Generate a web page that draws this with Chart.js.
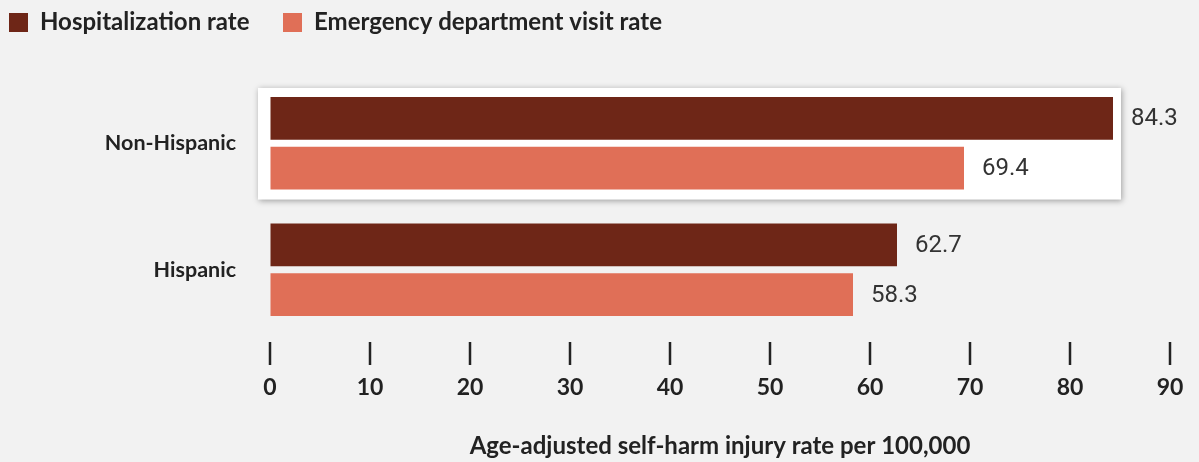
<!DOCTYPE html>
<html>
<head>
<meta charset="utf-8">
<script src="https://cdn.jsdelivr.net/npm/chart.js@4.4.1/dist/chart.umd.min.js"></script>
<style>
  html, body { margin: 0; padding: 0; background: #f2f2f2; }
  #wrap { width: 1199px; height: 462px; }
</style>
</head>
<body>
<div id="wrap"><canvas id="grafico"></canvas></div>
<script>
// dados
const categorias = ["Non-Hispanic", "Hispanic"];
const internacao = [84.3, 62.7];
const emergencia = [69.4, 58.3];
const ticksX = [0, 10, 20, 30, 40, 50, 60, 70, 80, 90];

const corEscura = "#6e2617";
const corClara = "#e06f57";
const fonteBold = "Lato";

// legenda desenhada a mao pra ficar igual a figura
const legendaPlugin = {
    id: "legendaManual",
    afterDraw(chart) {
        const c = chart.ctx;
        const posicoes = [9, 283];
        c.save();
        c.font = "bold 24px " + fonteBold;
        c.textBaseline = "middle";
        chart.data.datasets.forEach((ds, i) => {
            c.fillStyle = ds.backgroundColor;
            c.fillRect(posicoes[i], 13, 19, 19);
            c.fillStyle = "#222";
            c.fillText(ds.label, posicoes[i] + 31, 22.5);
        });
        c.restore();
    }
};

// caixa branca em volta do primeiro grupo
const caixaPlugin = {
    id: "caixaDestaque",
    beforeDatasetsDraw(chart) {
        const c = chart.ctx;
        const barras = chart.data.datasets.map((d, i) => chart.getDatasetMeta(i).data[0]);
        const topo = Math.min(...barras.map(b => b.y - b.height / 2)) - 9;
        const base = Math.max(...barras.map(b => b.y + b.height / 2)) + 10;
        const esq = chart.scales.x.getPixelForValue(0) - 12;
        const dir = Math.max(...barras.map(b => b.x)) + 8;
        c.save();
        c.shadowColor = "rgba(0,0,0,0.35)";
        c.shadowBlur = 6;
        c.shadowOffsetX = 1;
        c.shadowOffsetY = 1;
        c.fillStyle = "#ffffff";
        c.fillRect(esq, topo, dir - esq, base - topo);
        c.restore();
    }
};

// tracinhos acima dos numeros do eixo x
const tracosPlugin = {
    id: "tracosEixo",
    afterDraw(chart) {
        const c = chart.ctx;
        const x = chart.scales.x;
        c.save();
        c.strokeStyle = "#222";
        c.lineWidth = 2.5;
        x.ticks.forEach(t => {
            const px = x.getPixelForValue(t.value);
            c.beginPath();
            c.moveTo(px, 342);
            c.lineTo(px, 365);
            c.stroke();
        });
        c.restore();
    }
};

// valores no fim das barras
const valoresPlugin = {
    id: "valores",
    afterDatasetsDraw(chart) {
        const c = chart.ctx;
        c.save();
        c.font = "24px Roboto";
        c.fillStyle = "#333";
        c.textBaseline = "middle";
        chart.data.datasets.forEach((ds, i) => {
            chart.getDatasetMeta(i).data.forEach((b, j) => {
                c.fillText(ds.data[j].toFixed(1), b.x + 18, b.y + 1);
            });
        });
        c.restore();
    }
};

const ctx = document.getElementById("grafico");

new Chart(ctx, {
    type: "bar",
    data: {
        labels: categorias,
        datasets: [
            {
                label: "Hospitalization rate",
                data: internacao,
                backgroundColor: corEscura,
                categoryPercentage: 0.787,
                barPercentage: 0.86
            },
            {
                label: "Emergency department visit rate",
                data: emergencia,
                backgroundColor: corClara,
                categoryPercentage: 0.787,
                barPercentage: 0.86
            }
        ]
    },
    options: {
        indexAxis: "y",
        responsive: true,
        maintainAspectRatio: false,
        animation: false,
        layout: { padding: { top: 80, right: 29, left: 0, bottom: 0 } },
        plugins: {
            legend: { display: false },
            tooltip: { enabled: false }
        },
        scales: {
            x: {
                min: 0,
                max: 90,
                // tick invisivel so pra empurrar os numeros pra baixo
                grid: {
                    display: true,
                    drawOnChartArea: false,
                    drawTicks: true,
                    tickLength: 41,
                    tickColor: "rgba(0,0,0,0)"
                },
                border: { display: false },
                afterBuildTicks(scale) {
                    scale.ticks = ticksX.map(v => ({ value: v }));
                },
                afterFit(scale) { scale.height = 129; },
                ticks: {
                    padding: 0,
                    color: "#222",
                    font: { family: fonteBold, size: 23, weight: "bold" }
                },
                title: {
                    display: true,
                    text: "Age-adjusted self-harm injury rate per 100,000",
                    color: "#222",
                    font: { family: fonteBold, size: 24, weight: "bold" },
                    padding: { top: 0, bottom: 1 }
                }
            },
            y: {
                grid: { display: false },
                border: { display: false },
                afterFit(scale) { scale.width = 270; },
                ticks: {
                    padding: 26,
                    color: "#222",
                    font: { family: fonteBold, size: 21.5, weight: "bold" }
                }
            }
        }
    },
    plugins: [legendaPlugin, caixaPlugin, tracosPlugin, valoresPlugin]
});
</script>
</body>
</html>
